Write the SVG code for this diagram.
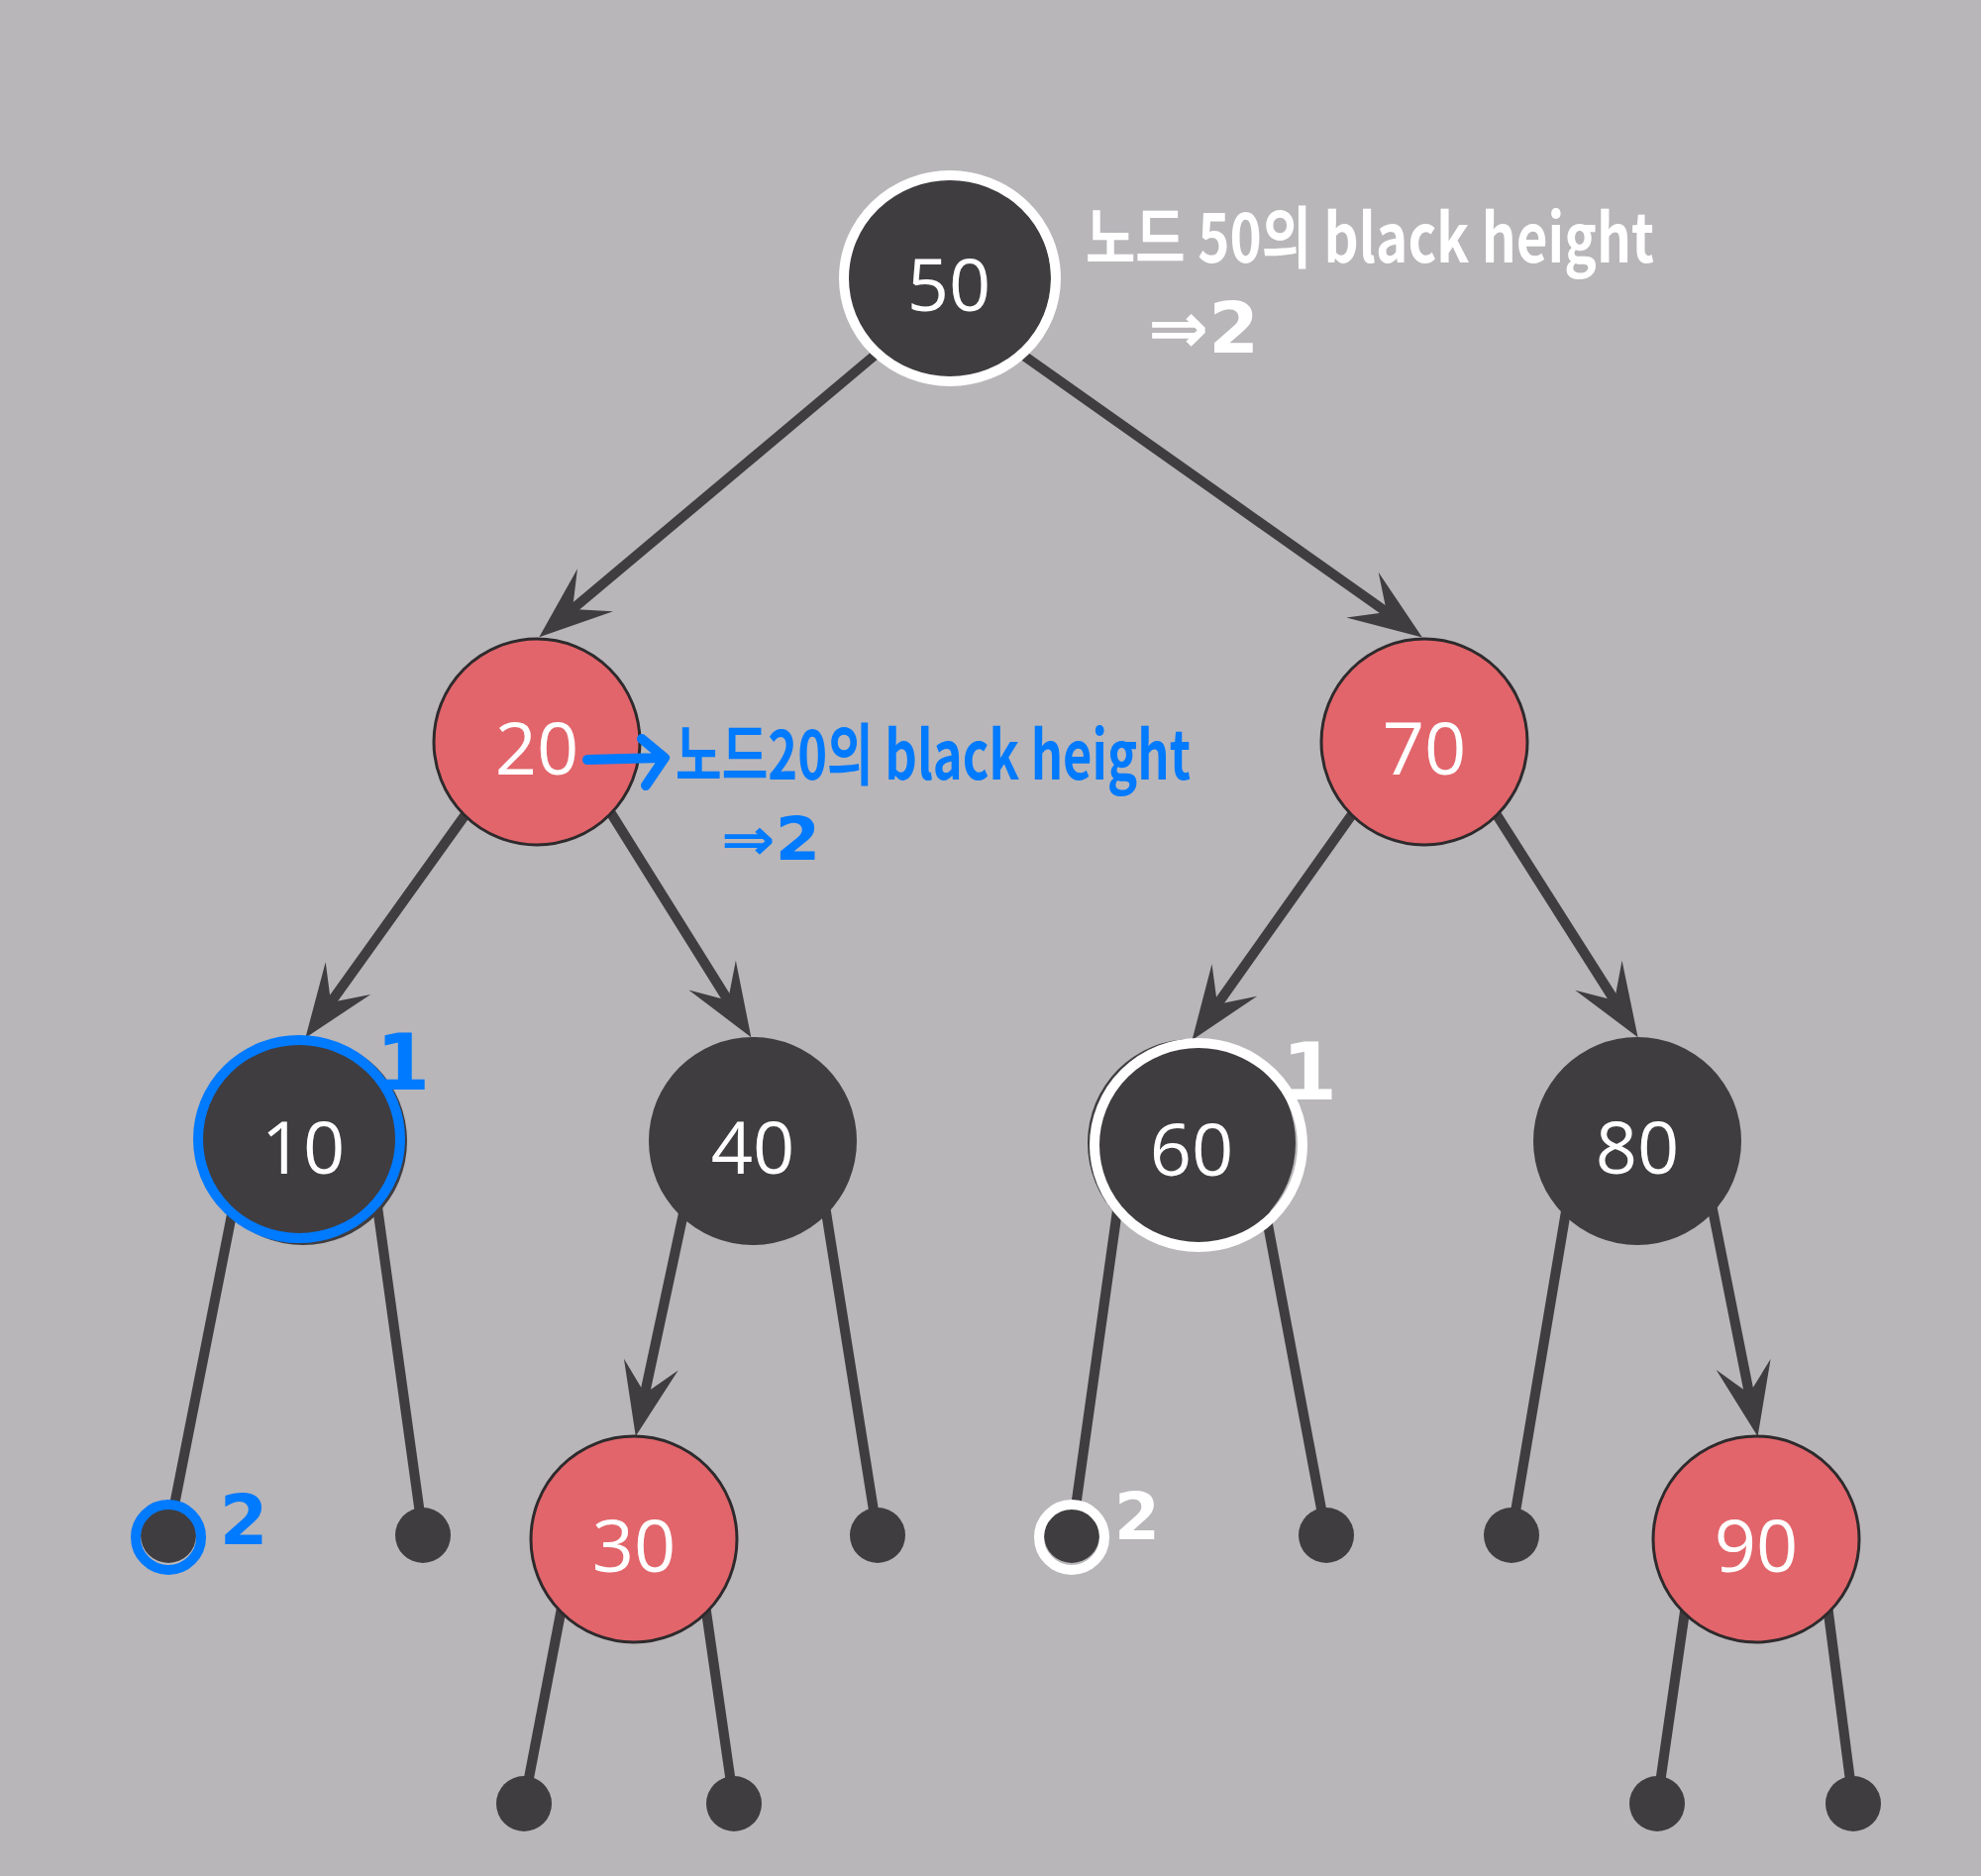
<svg xmlns="http://www.w3.org/2000/svg" width="2000" height="1894" viewBox="0 0 2000 1894">
<style>
.edge{stroke:#3f3d40;stroke-width:10;fill:none;stroke-linecap:butt}
.arrow{marker-end:url(#ah)}
.black{fill:#3f3d40}
.red{fill:#e2656b;stroke:#2e2a2c;stroke-width:3}
.leaf{fill:#3f3d40}
.num{font-family:"Open Sans","Noto Sans",sans-serif;font-size:74px;fill:#ffffff;text-anchor:middle}
.hw{font-family:"Noto Sans CJK KR","Noto Sans",sans-serif;font-weight:700}
.hs{font-family:"DejaVu Sans",sans-serif;font-weight:700}
.w{fill:#ffffff}
.b{fill:#007aff}
.ring-w{fill:none;stroke:#ffffff;stroke-width:10}
.ring-b{fill:none;stroke:#007aff;stroke-width:10}
</style>
<defs>
<marker id="ah" markerUnits="userSpaceOnUse" markerWidth="80" markerHeight="60" viewBox="-30 -30 80 60" refX="0" refY="0" orient="auto" overflow="visible">
<path d="M44,0 L-30,-28 L0,0 L-30,28 Z" fill="#3f3d40"/>
</marker>
</defs>
<rect width="2000" height="1894" fill="#b8b6b9"/>
<g id="connectors">
<line class="edge arrow" x1="897" y1="347" x2="578" y2="615"/>
<line class="edge arrow" x1="1011" y1="343" x2="1400" y2="618"/>
<line class="edge arrow" x1="478" y1="811" x2="334" y2="1012"/>
<line class="edge arrow" x1="610" y1="810" x2="735" y2="1010"/>
<line class="edge arrow" x1="1373" y1="811" x2="1229" y2="1014"/>
<line class="edge arrow" x1="1503" y1="810" x2="1630" y2="1010"/>
<line class="edge arrow" x1="693" y1="1211" x2="651" y2="1407"/>
<line class="edge arrow" x1="1727" y1="1211" x2="1766" y2="1407"/>
<line class="edge" x1="237" y1="1211" x2="170" y2="1550"/>
<line class="edge" x1="380" y1="1211" x2="427" y2="1550"/>
<line class="edge" x1="832" y1="1211" x2="886" y2="1550"/>
<line class="edge" x1="1129" y1="1215" x2="1082" y2="1550"/>
<line class="edge" x1="1276" y1="1215" x2="1339" y2="1550"/>
<line class="edge" x1="1583" y1="1211" x2="1526" y2="1550"/>
<line class="edge" x1="569" y1="1613" x2="529" y2="1821"/>
<line class="edge" x1="711" y1="1613" x2="741" y2="1821"/>
<line class="edge" x1="1703" y1="1613" x2="1673" y2="1821"/>
<line class="edge" x1="1844" y1="1613" x2="1871" y2="1821"/>
</g>
<g id="node-50"><circle class="black" cx="958" cy="281" r="103"/><text class="num" x="958" y="314">50</text></g>
<g id="node-20"><circle class="red" cx="542" cy="749" r="104"/><text class="num" x="542" y="782">20</text></g>
<g id="node-70"><circle class="red" cx="1438" cy="749" r="104"/><text class="num" x="1438" y="782">70</text></g>
<g id="node-10"><circle class="black" cx="306" cy="1152" r="105"/><text class="num" x="306" y="1185">10</text></g>
<g id="node-40"><circle class="black" cx="760" cy="1152" r="105"/><text class="num" x="760" y="1185">40</text></g>
<g id="node-60"><circle class="black" cx="1203" cy="1154" r="105"/><text class="num" x="1203" y="1187">60</text></g>
<g id="node-80"><circle class="black" cx="1653" cy="1152" r="105"/><text class="num" x="1653" y="1185">80</text></g>
<g id="node-30"><circle class="red" cx="640" cy="1554" r="104"/><text class="num" x="640" y="1587">30</text></g>
<g id="node-90"><circle class="red" cx="1773" cy="1554" r="104"/><text class="num" x="1773" y="1587">90</text></g>
<g id="leaves">
<circle class="leaf" cx="170" cy="1550" r="28"/>
<circle class="leaf" cx="427" cy="1550" r="28"/>
<circle class="leaf" cx="886" cy="1550" r="28"/>
<circle class="leaf" cx="1082" cy="1550" r="28"/>
<circle class="leaf" cx="1339" cy="1550" r="28"/>
<circle class="leaf" cx="1526" cy="1550" r="28"/>
<circle class="leaf" cx="529" cy="1821" r="28"/>
<circle class="leaf" cx="741" cy="1821" r="28"/>
<circle class="leaf" cx="1673" cy="1821" r="28"/>
<circle class="leaf" cx="1871" cy="1821" r="28"/>
</g>
<g id="annotation-white">
<ellipse class="ring-w" cx="959" cy="281" rx="107" ry="104"/>
<text class="hw w" x="1096" y="265" font-size="68" textLength="574" lengthAdjust="spacingAndGlyphs">노드 50의 black height</text>
<text class="hs w" x="1159" y="356" font-size="72" textLength="112" lengthAdjust="spacingAndGlyphs">⇒2</text>
<ellipse class="ring-w" cx="1210" cy="1156" rx="105" ry="103"/>
<text class="hs w" x="1322" y="1110" font-size="80" text-anchor="middle">1</text>
<circle class="ring-w" cx="1082" cy="1552" r="33" stroke-width="8"/>
<text class="hs w" x="1148" y="1554" font-size="66" text-anchor="middle">2</text>
</g>
<g id="annotation-blue">
<path d="M593,767 L668,765 M648,746 L671,765 L652,793" fill="none" stroke="#007aff" stroke-width="10" stroke-linecap="round" stroke-linejoin="round"/>
<text class="hw b" x="682" y="787" font-size="68" textLength="520" lengthAdjust="spacingAndGlyphs">노드20의 black height</text>
<text class="hs b" x="728" y="868" font-size="60" textLength="100" lengthAdjust="spacingAndGlyphs">⇒2</text>
<ellipse class="ring-b" cx="302" cy="1150" rx="102" ry="100"/>
<text class="hs b" x="407" y="1100" font-size="78" text-anchor="middle">1</text>
<circle class="ring-b" cx="170" cy="1552" r="33" stroke-width="9"/>
<text class="hs b" x="246" y="1559" font-size="70" text-anchor="middle">2</text>
</g>
</svg>
